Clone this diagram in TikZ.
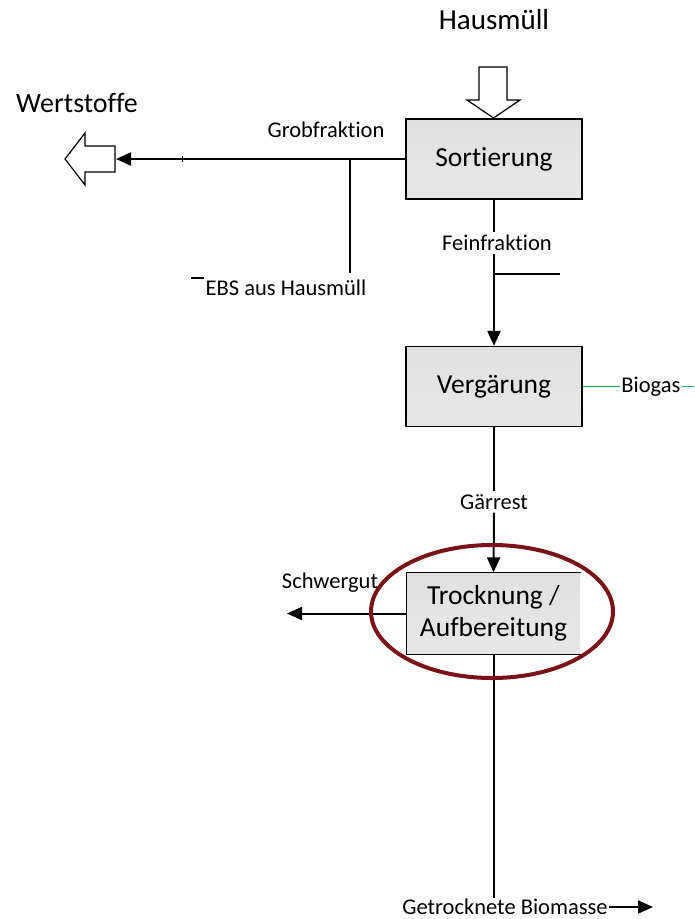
\documentclass[tikz,border=0pt]{standalone}
\usepackage{fontspec}
\setmainfont{Carlito}[Ligatures={NoCommon}]
\usetikzlibrary{arrows.meta}
\definecolor{ringred}{RGB}{122,19,21}
\definecolor{gasgreen}{RGB}{0,176,80}
\tikzset{
  box/.style={shape=rectangle,draw=black,line width=1.3pt,top color=black!12,middle color=black!3,bottom color=black!9,minimum width=176pt,minimum height=80pt,font=\fontsize{27.5}{32}\selectfont,align=center},
  big/.style={font=\fontsize{28}{32}\selectfont,inner sep=0.75pt},
  lbl/.style={font=\fontsize{22.5}{26}\selectfont,inner sep=3pt},
  flow/.style={line width=2pt},
  flowarrow/.style={line width=2pt,-{Triangle[length=15pt,width=13pt]}},
  gas/.style={draw=gasgreen,line width=1.8pt},
  blockarrow/.style={draw=black,line width=1.2pt,fill=white,line join=miter},
  highlight/.style={draw=ringred,line width=4pt}
}
\begin{document}
\begin{tikzpicture}[x=1pt,y=1pt,yscale=-1,xscale=1]
\useasboundingbox (0,0) rectangle (694,919);

%Shape: Process boxes
\node[box] (sort) at (494,159) {Sortierung};
\node[box] (verg) at (494,386.5) {Vergärung};
\node[box,draw=none,minimum width=173pt,minimum height=81pt] (trock) at (493.5,613.5) {Trocknung /\\Aufbereitung};
\draw[line width=1.3pt] (trock.north east) -- (trock.north west) -- (trock.south west) -- (trock.south east);

% Text Node
\node[big,font=\fontsize{29}{33}\selectfont] (haus) at (494,20) {Hausmüll};
% Text Node
\node[big] (wert) at (77,103) {Wertstoffe};
% Text Node
\node[lbl] (grob) at (326,130) {Grobfraktion};
% Text Node
\node[lbl] (ebs) at (286,288) {EBS aus Hausmüll};
% Text Node
\node[lbl] (fein) at (497,243) {Feinfraktion};
% Text Node
\node[lbl,inner sep=1pt] (bio) at (651,386.5) {Biogas};
% Text Node
\node[lbl] (gaer) at (494,502) {Gärrest};
% Text Node
\node[lbl,inner sep=0.5pt] (schwer) at (330,583) {Schwergut};
% Text Node
\node[lbl,inner sep=1pt] (getr) at (505,907) {Getrocknete Biomasse};

%Shape: Block arrows
\draw[blockarrow] (479,67) -- (507,67) -- (507,100) -- (520,100) -- (493.5,118) -- (467,100) -- (479,100) -- cycle;
\draw[blockarrow] (65,159) -- (85,133) -- (85,146) -- (115,146) -- (115,172) -- (85,172) -- (85,185) -- cycle;

%Coordinates
\coordinate (wtip) at (116,159);
\coordinate (ebsjoint) at (350,159);
\coordinate (ebsend) at (350,273);
\coordinate (feinjoint) at (494,274);
\coordinate (feinend) at (560,274);
\coordinate (gasend) at (694,386.5);
\coordinate (schwerend) at (287,613.5);
\coordinate (biomend) at (653,907);

%Straight Lines
\draw[flowarrow] (sort.west) -- (wtip);
\draw[line width=1pt] (182,156) -- (182,162);
\draw[flow] (ebsjoint) -- (ebsend);
\draw[line width=1.3pt] (191,278) -- (204,278);
\draw[flow] (sort.south) -- (sort.south |- fein.north);
\draw[flowarrow] (sort.south |- fein.south) -- (verg.north);
\draw[flow] (feinjoint) -- (feinend);
\draw[gas] (verg.east) -- (bio.west);
\draw[gas] (bio.east) -- (gasend);
\draw[flow] (verg.south) -- (gaer.north);
\draw[flowarrow] (gaer.south) -- (trock.north);
\draw[flowarrow] (trock.west) -- (schwerend);
\draw[flow] (trock.south) -- (trock.south |- getr.north);
\draw[flowarrow] (getr.east) -- (biomend);

%Shape: Ellipse
\draw[highlight] (492,611.5) ellipse [x radius=121, y radius=66.5];

\end{tikzpicture}
\end{document}
